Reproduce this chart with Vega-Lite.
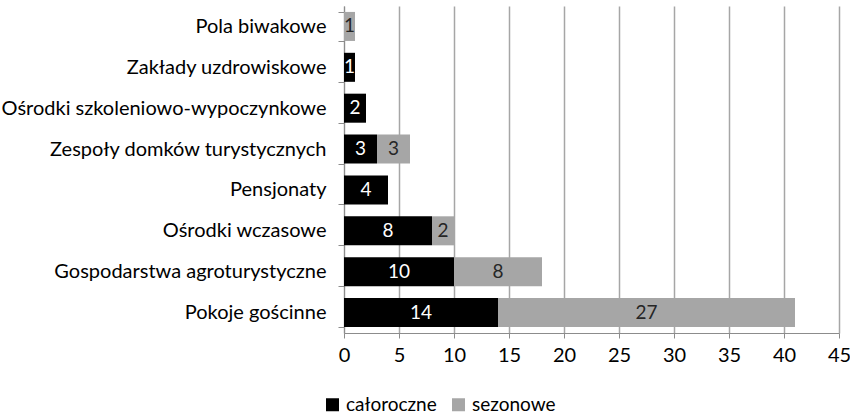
{
  "$schema": "https://vega.github.io/schema/vega-lite/v6.json",
  "width": 495,
  "height": 327,
  "autosize": {"type": "none"},
  "padding": {"left": 344, "top": 6, "right": 11, "bottom": 84},
  "background": "white",
  "config": {
    "font": "Lato",
    "view": {"stroke": null},
    "axis": {"labelFont": "Lato", "labelFontSize": 20, "labelColor": "#000000", "domainColor": "#8c8c8c", "tickColor": "#8c8c8c", "gridColor": "#a6a6a6", "gridWidth": 1.5, "labelLimit": 400}
  },
  "data": {
    "values": [
      {"cat": "Pola biwakowe", "typ": "sezonowe", "v": 1, "o": 2},
      {"cat": "Zakłady uzdrowiskowe", "typ": "całoroczne", "v": 1, "o": 1},
      {"cat": "Ośrodki szkoleniowo-wypoczynkowe", "typ": "całoroczne", "v": 2, "o": 1},
      {"cat": "Zespoły domków turystycznych", "typ": "całoroczne", "v": 3, "o": 1},
      {"cat": "Zespoły domków turystycznych", "typ": "sezonowe", "v": 3, "o": 2},
      {"cat": "Pensjonaty", "typ": "całoroczne", "v": 4, "o": 1},
      {"cat": "Ośrodki wczasowe", "typ": "całoroczne", "v": 8, "o": 1},
      {"cat": "Ośrodki wczasowe", "typ": "sezonowe", "v": 2, "o": 2},
      {"cat": "Gospodarstwa agroturystyczne", "typ": "całoroczne", "v": 10, "o": 1},
      {"cat": "Gospodarstwa agroturystyczne", "typ": "sezonowe", "v": 8, "o": 2},
      {"cat": "Pokoje gościnne", "typ": "całoroczne", "v": 14, "o": 1},
      {"cat": "Pokoje gościnne", "typ": "sezonowe", "v": 27, "o": 2}
    ]
  },
  "encoding": {
    "y": {
      "field": "cat",
      "type": "nominal",
      "sort": ["Pola biwakowe", "Zakłady uzdrowiskowe", "Ośrodki szkoleniowo-wypoczynkowe", "Zespoły domków turystycznych", "Pensjonaty", "Ośrodki wczasowe", "Gospodarstwa agroturystyczne", "Pokoje gościnne"],
      "scale": {"paddingInner": 0.29, "paddingOuter": 0.145},
      "axis": {"title": null, "tickBand": "extent", "tickSize": 6, "labelPadding": 12, "grid": false, "domain": true}
    }
  },
  "layer": [
    {
      "mark": {"type": "bar"},
      "encoding": {
        "x": {
          "field": "v",
          "type": "quantitative",
          "stack": "zero",
          "scale": {"domain": [0, 45], "nice": false},
          "axis": {"title": null, "values": [0, 5, 10, 15, 20, 25, 30, 35, 40, 45], "tickSize": 5, "labelPadding": 7, "grid": true, "labelFlush": false}
        },
        "color": {
          "field": "typ",
          "type": "nominal",
          "scale": {"domain": ["całoroczne", "sezonowe"], "range": ["#000000", "#a6a6a6"]},
          "legend": {
            "title": null,
            "orient": "none",
            "direction": "horizontal",
            "legendX": -21,
            "legendY": 389,
            "symbolType": "square",
            "symbolSize": 169,
            "symbolStrokeWidth": 0,
            "labelFontSize": 19,
            "labelFont": "Lato",
            "labelColor": "#000000",
            "labelOffset": 4,
            "columnPadding": 12
          }
        },
        "order": {"field": "o", "type": "quantitative"}
      }
    },
    {
      "mark": {"type": "text", "fontSize": 19, "font": "Lato"},
      "encoding": {
        "x": {"field": "v", "type": "quantitative", "stack": "zero", "bandPosition": 0.5},
        "text": {"field": "v", "type": "quantitative"},
        "color": {"condition": {"test": "datum.typ === 'całoroczne'", "value": "#ffffff"}, "value": "#262626"},
        "order": {"field": "o", "type": "quantitative"}
      }
    }
  ]
}
